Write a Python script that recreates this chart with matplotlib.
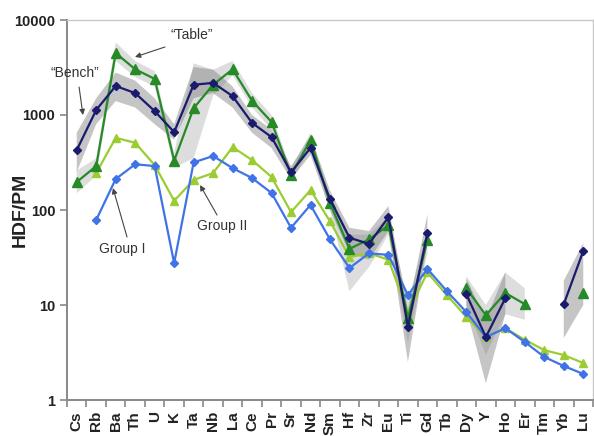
import numpy as np
import matplotlib
matplotlib.use("Agg")
import matplotlib.pyplot as plt

plt.rcParams['font.family'] = ['Liberation Sans', 'DejaVu Sans']

nan = np.nan
elements = ["Cs", "Rb", "Ba", "Th", "U", "K", "Ta", "Nb", "La", "Ce", "Pr", "Sr",
            "Nd", "Sm", "Hf", "Zr", "Eu", "Ti", "Gd", "Tb", "Dy", "Y", "Ho", "Er",
            "Tm", "Yb", "Lu"]

# Mantle-normalised concentrations
bench = [427, 1130, 2020, 1700, 1100, 660, 2080, 2180, 1580, 826, 585, 250,
         450, 130, 51, 44, 84, 5.9, 57, nan, 13, 4.6, 11.8, nan, nan, 10.2, 37]
table = [197, 290, 4490, 3030, 2400, 330, 1180, 2080, 3030, 1410, 845, 233,
         546, 118, 39, 49, 69, 7.3, 48, nan, 15, 7.8, 13.4, 10.2, nan, nan, 13.4]
group_ii = [nan, 245, 575, 510, 297, 125, 207, 245, 460, 335, 223, 95,
            162, 76, 32, 35, 30, 8.4, 22, 12.7, 7.5, 4.6, 5.7, 4.3, 3.35, 2.97, 2.45]
group_i = [nan, 78.6, 212, 303, 290, 27.6, 317, 370, 276, 217, 151, 65,
           113, 49, 24.5, 35, 33.7, 12.7, 24, 14, 8.4, 4.6, 5.7, 4.08, 2.84, 2.28, 1.88]

# Ranges of the individual samples
bench_lo = [250, 800, 1400, 1200, 800, 550, 1500, 1700, 1200, 650, 450, 210,
            380, 100, 35, 30, 60, 2.5, 45, nan, 9, 1.5, 8, nan, nan, 4.5, 10]
bench_hi = [650, 1500, 2800, 2300, 1500, 800, 3200, 3000, 2000, 1000, 700, 290,
            600, 160, 65, 60, 110, 9, 90, nan, 19, 7, 22, nan, nan, 18, 45]
table_lo = [150, 230, 3700, 2500, 2000, 280, 350, 1600, 2600, 1200, 700, 200,
            450, 100, 14, 25, 55, 4, 35, nan, 10, 3, 8, 7, nan, nan, nan]
table_hi = [260, 350, 5800, 3700, 2900, 400, 3500, 3000, 3700, 1700, 1000, 270,
            650, 140, 55, 55, 85, 11, 60, nan, 20, 10, 22, 15, nan, nan, nan]

x = np.arange(len(elements))

fig = plt.figure(figsize=(5.94, 4.36), dpi=100)
ax = fig.add_axes([67 / 594, 1 - 400 / 436, 526 / 594, 380 / 436])

ax.fill_between(x, table_lo, table_hi, color='#b4b4b4', alpha=0.45, lw=0, zorder=1)
ax.fill_between(x, bench_lo, bench_hi, color='#7f7f7f', alpha=0.45, lw=0, zorder=1)

ax.plot(x, group_ii, color='#9acd32', lw=1.6, marker='^', ms=6, zorder=3)
ax.plot(x, group_i, color='#3f73e6', lw=1.6, marker='D', ms=4.5, zorder=3)
ax.plot(x, table, color='#268a26', lw=1.6, marker='^', ms=6.5, zorder=4)
ax.plot(x, bench, color='#1a1a6e', lw=1.6, marker='D', ms=4.5, zorder=5)

ax.set_yscale('log')
ax.set_ylim(1, 10000)
ax.set_xlim(-0.5, len(elements) - 0.5)
ax.set_yticks([1, 10, 100, 1000, 10000])
ax.set_yticklabels(['1', '10', '100', '1000', '10000'])
ax.yaxis.set_minor_locator(matplotlib.ticker.NullLocator())

ax.set_xticks(x)
ax.set_xticklabels(elements, rotation=90, fontsize=11, fontweight='bold', color='#222222')
ax.set_xticks(np.arange(len(elements) + 1) - 0.5, minor=True)
ax.tick_params(axis='x', which='major', length=0, pad=8)
ax.tick_params(axis='x', which='minor', length=5, width=1.2, color='#888888')
ax.tick_params(axis='y', which='major', length=5, width=1.2, color='#888888',
               labelsize=10.5, labelcolor='#222222')
for lab in ax.get_yticklabels():
    lab.set_fontweight('bold')

for side in ('left', 'bottom'):
    ax.spines[side].set_color('#888888')
    ax.spines[side].set_linewidth(1.4)
for side in ('top', 'right'):
    ax.spines[side].set_color('#c8c8c8')
    ax.spines[side].set_linewidth(1.0)

ax.set_ylabel('HDF/PM', fontsize=14, fontweight='bold', color='#222222')
ax.yaxis.set_label_coords(-0.072, 0.5)

arrow = dict(arrowstyle='-|>', color='#444444', lw=0.8, mutation_scale=8,
             shrinkA=0, shrinkB=0)
txt = dict(fontsize=10, color='#333333', ha='center', va='center')

ax.text(-0.09, 2770, '\u201cBench\u201d', **txt)
ax.annotate('', xy=(0.32, 1000), xytext=(0.12, 1970), arrowprops=arrow)
ax.text(5.92, 6960, '\u201cTable\u201d', **txt)
ax.annotate('', xy=(2.99, 4080), xytext=(4.53, 5200), arrowprops=arrow)
ax.text(2.32, 38.9, 'Group I', **txt)
ax.annotate('', xy=(1.86, 170), xytext=(2.58, 52), arrowprops=arrow)
ax.text(7.46, 67.7, 'Group II', **txt)
ax.annotate('', xy=(6.33, 183), xytext=(7.2, 88.6), arrowprops=arrow)

fig.savefig('out.png', dpi=100)
